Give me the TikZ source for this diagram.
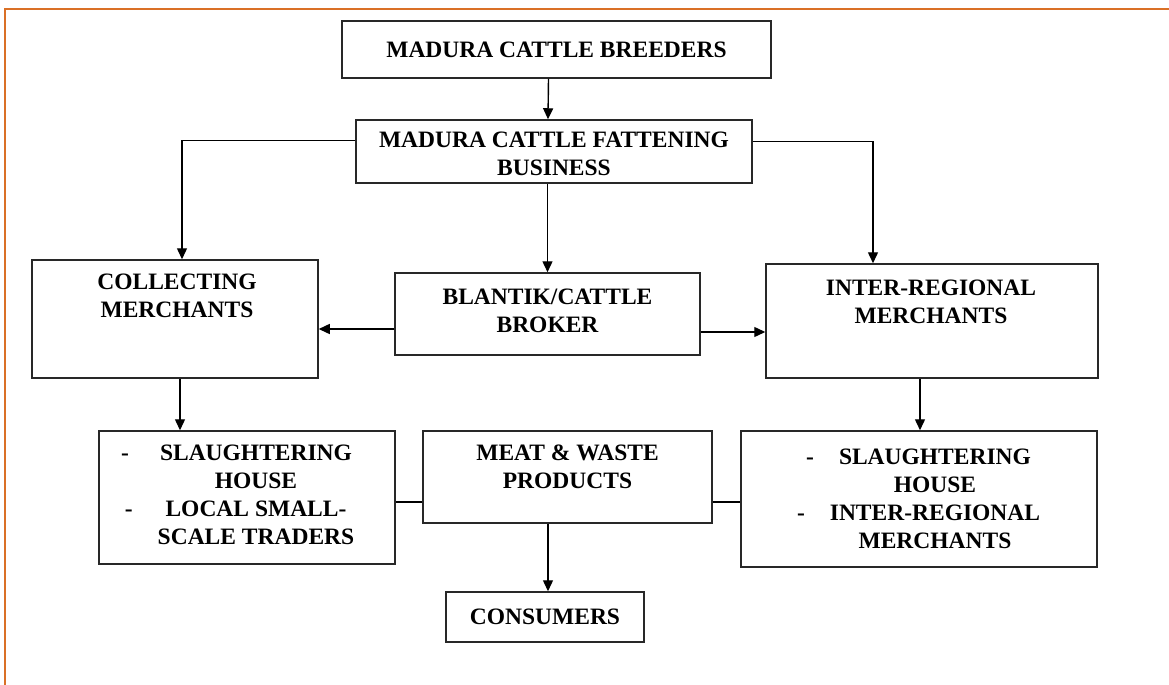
\documentclass[tikz,border=0pt]{standalone}
\usepackage{fontspec}
\setmainfont{Liberation Serif}
\usetikzlibrary{arrows.meta}
\definecolor{framecol}{RGB}{218,112,38}
\begin{document}
\begin{tikzpicture}[x=0.5pt,y=-0.5pt,
  box/.style={draw={rgb,255:red,40;green,40;blue,40},line width=0.75pt,inner sep=0pt},
  txt/.style={inner sep=0pt,align=center,font=\fontsize{11.75}{14}\selectfont\bfseries},
  arr/.style={line width=0.7pt,-{Triangle[length=5.5pt,width=5pt]}},
  link/.style={line width=0.7pt}]
\useasboundingbox (0,0) rectangle (1169,685);

%Frame
\draw [framecol,line width=0.6pt] (5,685) -- (5,9) -- (1169,9);

%Boxes
\node [box,minimum width=214.5pt,minimum height=28.5pt] (brd) at (556.5,49.5) {};
\node [box,minimum width=198pt,minimum height=31.5pt] (fat) at (554,151.5) {};
\node [box,minimum width=143pt,minimum height=59pt] (coll) at (175,319) {};
\node [box,minimum width=152.5pt,minimum height=41pt] (blt) at (547.5,314) {};
\node [box,minimum width=166pt,minimum height=57pt] (inr) at (932,321) {};
\node [box,minimum width=148pt,minimum height=66.5pt] (sl) at (247,497.5) {};
\node [box,minimum width=144.5pt,minimum height=46pt] (meat) at (567.5,477) {};
\node [box,minimum width=178pt,minimum height=68pt] (sr) at (919,499) {};
\node [box,minimum width=99pt,minimum height=25pt] (cons) at (545,617) {};

% Text Node
\node [txt] (brd-t) at (556.5,50) {MADURA CATTLE BREEDERS};
\node [txt] (fat-t) at (554,154) {MADURA CATTLE FATTENING\\BUSINESS};
\node [txt] (coll-t) at (177,296) {COLLECTING\\MERCHANTS};
\node [txt] (blt-t) at (547.5,311) {BLANTIK/CATTLE\\BROKER};
\node [txt] (inr-t) at (931,302) {INTER-REGIONAL\\MERCHANTS};
\node [txt] (sl-t) at (256,495) {\llap{-\hspace{15.5pt}}SLAUGHTERING\\HOUSE\\\llap{-\hspace{16.5pt}}LOCAL SMALL-\\SCALE TRADERS};
\node [txt] (meat-t) at (567.5,467) {MEAT \& WASTE\\PRODUCTS};
\node [txt] (sr-t) at (935,499) {\llap{-\hspace{12.5pt}}SLAUGHTERING\\HOUSE\\\llap{-\hspace{12.5pt}}INTER-REGIONAL\\MERCHANTS};
\node [txt] (cons-t) at (545,617) {CONSUMERS};

%Connectors
\draw [arr] ([xshift=-4pt]brd.south) -- ([xshift=-3pt]fat.north);
\draw [arr] ([yshift=5.5pt]fat.west) -| ([xshift=3.5pt]coll.north);
\draw [arr] ([yshift=5pt]fat.east) -| ([xshift=-29.5pt]inr.north);
\draw [arr] (blt.north |- fat.south) -- (blt.north);
\draw [arr] ([yshift=-7.5pt]blt.west) coordinate (bw) -- (bw -| coll.east);
\draw [arr] ([yshift=-9pt]blt.east) coordinate (be) -- (be -| inr.west);
\draw [arr] ([xshift=2.5pt]coll.south) coordinate (cs) -- (cs |- sl.north);
\draw [arr] ([xshift=-6pt]inr.south) coordinate (is) -- (is |- sr.north);
\draw [link] ([yshift=-12.5pt]meat.west) coordinate (mw) -- (mw -| sl.east);
\draw [link] ([yshift=-12.5pt]meat.east) coordinate (me) -- (me -| sr.west);
\draw [arr] ([xshift=1.5pt]cons.north |- meat.south) -- ([xshift=1.5pt]cons.north);

\end{tikzpicture}
\end{document}
